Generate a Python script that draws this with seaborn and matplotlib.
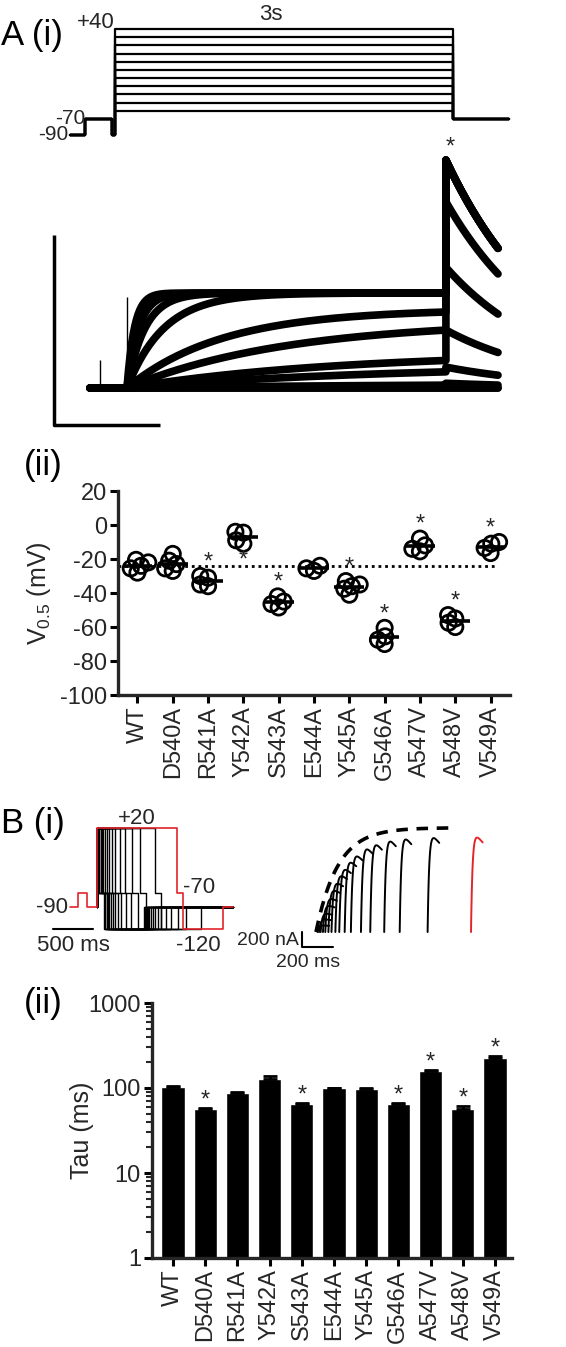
import numpy as np
import pandas as pd
import matplotlib
matplotlib.use("Agg")
import matplotlib.pyplot as plt
import seaborn as sns

# ── Mutants ───────────────────────────────────────────────────────────────────
MUTANTS = ["WT", "D540A", "R541A", "Y542A", "S543A", "E544A",
           "Y545A", "G546A", "A547V", "A548V", "V549A"]

# A(ii) V0.5 (mV), individual cells
V05_WT    = [-20.5, -22.0, -24.0, -25.5, -28.0]
V05_D540A = [-17.0, -21.0, -23.0, -25.5, -27.0]
V05_R541A = [-30.0, -31.0, -35.0, -36.0]
V05_Y542A = [-4.0, -4.5, -9.0, -11.0]
V05_S543A = [-42.0, -45.0, -46.5, -48.5]
V05_E544A = [-24.0, -25.5, -27.0]
V05_Y545A = [-33.0, -35.0, -36.0, -37.5, -41.0]
V05_G546A = [-60.5, -65.5, -67.5, -70.0]
V05_A547V = [-8.0, -12.0, -14.0, -15.5]
V05_A548V = [-53.0, -55.0, -57.5, -60.0]
V05_V549A = [-10.0, -11.0, -13.5, -16.5]
V05_STAR  = ["", "", "up", "down", "up", "", "up", "up", "up", "up", "up"]

# B(ii) deactivation tau (ms), mean and SEM
TAU_MEAN = [103, 56, 88, 128, 65, 99, 98, 64, 158, 56, 228]
TAU_SEM  = [3, 2, 2, 10, 2, 1, 2, 2, 5, 5, 8]
TAU_STAR = [False, True, False, False, True, False, False, True, True, True, True]

# A(i) voltage protocol
A_STEP_MV = [-60, -50, -40, -30, -20, -10, 0, 10, 20, 30, 40]
A_PRE_T   = [-400, -266, -25, 0]      # ms
A_PRE_MV  = [-90, -70, -90]
A_TEST_MS = 3000
A_END_MS  = 3500
A_TAIL_MV = -70

# A(i) current traces (uA), one entry per step
A_ACT_END  = [0, 0, 0.03, 0.17, 0.29, 0.61, 0.80, 1.0, 1.0, 1.0, 1.0]
A_ACT_TAU  = [500, 500, 2500, 2500, 2000, 1500, 900, 350, 170, 110, 70]
A_TAIL_PK  = [0, 0, 0.05, 0.22, 0.61, 1.27, 1.96, 2.40, 2.40, 2.40, 2.40]
A_TAIL_TAU = 1000

# B(i) envelope-of-tails protocol
B_DUR_MS  = [10, 20, 30, 45, 60, 80, 100, 125, 150, 185, 225, 290, 350, 440, 540, 720]
B_RED_MS  = 1000
B_ENV_TAU = 140
B_ENV_MAX = 1390   # nA

RED  = "#e3242b"
TEXT = "black"
W, H = 566, 1347

sns.set_style("ticks")
plt.rcParams["font.family"] = ["Liberation Sans", "DejaVu Sans"]
plt.rcParams["axes.unicode_minus"] = False
plt.rcParams["mathtext.fontset"] = "custom"
plt.rcParams["mathtext.rm"] = "Liberation Sans"
plt.rcParams["mathtext.default"] = "regular"

fig = plt.figure(figsize=(W / 100, H / 100), dpi=100, facecolor="white")


def box(left, top, width, height):
    """Axes placed in pixel units (origin top-left)."""
    return fig.add_axes([left / W, 1 - (top + height) / H, width / W, height / H])


def panel_label(x, y, s):
    fig.text(x / W, 1 - y / H, s, fontsize=25, ha="left", va="center", color=TEXT)


def style_ax(ax):
    ax.spines[["top", "right"]].set_visible(False)
    ax.spines[["left", "bottom"]].set_linewidth(2.4)
    ax.tick_params(width=2.2, length=6, labelsize=17, color=TEXT, pad=2)


panel_label(1, 36, "A (i)")
panel_label(24, 466, "(ii)")
panel_label(1, 824, "B (i)")
panel_label(24, 1003, "(ii)")

# ── A(i) protocol ─────────────────────────────────────────────────────────────
ax = box(58.65, 16.73, 462, 126.8)
ax.set_xlim(-500, 3600)
ax.set_ylim(-100, 55)
ax.axis("off")
for v in A_STEP_MV:
    t = A_PRE_T + [A_TEST_MS, A_END_MS]
    mv = A_PRE_MV + [v, A_TAIL_MV, A_TAIL_MV]
    ax.plot(t, mv, drawstyle="steps-post", color=TEXT, lw=1.6)
ax.text(0, 41.5, "+40", ha="right", va="baseline", fontsize=16, clip_on=False)
ax.text(A_TEST_MS * 0.46, 51, "3s", ha="center", va="baseline", fontsize=16, clip_on=False)
ax.text(A_PRE_T[1], -76, "-70", ha="right", va="baseline", fontsize=15)
ax.text(A_PRE_T[0] - 17, -96, "-90", ha="right", va="baseline", fontsize=15, clip_on=False)

# ── A(i) current traces ───────────────────────────────────────────────────────
ax = box(31.3, 141, 478.4, 289.75)
ax.set_xlim(-900, 3600)
ax.set_ylim(-0.45, 2.6)
ax.axis("off")
t_pre = np.linspace(-348, 0, 40)
t_step = np.linspace(0, A_TEST_MS, 400)
t_tail = np.linspace(A_TEST_MS, 3490, 80)
for amp, tau, pk in zip(A_ACT_END, A_ACT_TAU, A_TAIL_PK):
    i_step = amp * (1 - np.exp(-t_step / tau)) / (1 - np.exp(-A_TEST_MS / tau))
    i_tail = pk * np.exp(-(t_tail - A_TEST_MS) / A_TAIL_TAU)
    t_all = np.concatenate([t_pre, t_step, t_tail])
    i_all = np.concatenate([np.zeros_like(t_pre), i_step, i_tail])
    ax.plot(t_all, i_all, color=TEXT, lw=5.5, solid_joinstyle="round")
ax.vlines([-254, 0], 0, [0.3, 0.96], color=TEXT, lw=1)
ax.text(3040, 2.53, "*", ha="center", va="center", fontsize=17)
# scale bars: 1 s, 2 uA
ax.plot([-687, -687, 313], [1.61, -0.39, -0.39], color=TEXT, lw=2.5,
        solid_capstyle="butt")

# ── A(ii) V0.5 scatter ────────────────────────────────────────────────────────
v05_lists = [V05_WT, V05_D540A, V05_R541A, V05_Y542A, V05_S543A, V05_E544A,
             V05_Y545A, V05_G546A, V05_A547V, V05_A548V, V05_V549A]
df = pd.DataFrame({
    "mutant": [m for m, vals in zip(MUTANTS, v05_lists) for _ in vals],
    "v05": [v for vals in v05_lists for v in vals],
})
means = df.groupby("mutant")["v05"].mean().reindex(MUTANTS)

ax = box(118, 491, 392, 204)
ax.set_xlim(-0.55, 10.55)
ax.set_ylim(-100, 20)
# lay the swarm out with small markers, then redraw as bigger open circles
# so that neighbouring circles overlap the way Prism draws them
sns.swarmplot(data=df, x="mutant", y="v05", order=MUTANTS, size=5.5,
              color="black", ax=ax)
ax.set_xlim(-0.55, 10.55)
ax.set_ylim(-100, 20)
fig.canvas.draw()
for coll in list(ax.collections):
    offs = np.asarray(coll.get_offsets())
    coll.remove()
    ax.scatter(offs[:, 0], offs[:, 1], s=11 ** 2, facecolors="none",
               edgecolors="black", linewidths=2, zorder=3)
x = np.arange(len(MUTANTS))
ax.hlines(means.values, x - 0.42, x + 0.42, color=TEXT, lw=2.6, zorder=5)
ax.hlines(means["WT"], -0.55, len(MUTANTS) - 0.83, color=TEXT, lw=2,
          linestyles=(0, (1, 1.4)), zorder=2)
for i, (m, s) in enumerate(zip(MUTANTS, V05_STAR)):
    vals = df.loc[df.mutant == m, "v05"]
    if s == "up":
        ax.text(i, vals.max() + 8, "*", ha="center", va="center", fontsize=17)
    elif s == "down":
        ax.text(i, vals.min() - 10, "*", ha="center", va="center", fontsize=17)
ax.set_xlim(-0.55, 10.55)
ax.set_ylim(-100, 20)
ax.set_yticks([20, 0, -20, -40, -60, -80, -100])
ax.set_xlabel("")
ax.set_ylabel("V$_{0.5}$ (mV)", fontsize=18)
ax.yaxis.set_label_coords(-0.165, 0.5)
style_ax(ax)
ax.tick_params(axis="x", labelrotation=90)

# ── B(i) protocol ─────────────────────────────────────────────────────────────
ax = box(49, 817.2, 196, 126.4)
ax.set_xlim(-600, 1850)
ax.set_ylim(-140, 35)
ax.axis("off")
for d in B_DUR_MS:
    t = [0, 0, d, d + 75, d + 575, 1700]
    mv = [-90, 20, -70, -120, -90, -90]
    ax.plot(t, mv, drawstyle="steps-post", color=TEXT, lw=1.0)
t = [-340, -238, -125, 0, B_RED_MS, B_RED_MS + 75, B_RED_MS + 575, 1700]
mv = [-90, -70, -90, 20, -70, -120, -90, -90]
ax.plot(t, mv, drawstyle="steps-post", color=RED, lw=1.2, zorder=5)
ax.text(500, 33.8, "+20", ha="center", va="center", fontsize=16, clip_on=False)
ax.text(1075, -61.7, "-70", ha="left", va="center", fontsize=16)
ax.text(-362, -90, "-90", ha="right", va="center", fontsize=16)
ax.text(1263, -142, "-120", ha="center", va="center", fontsize=16, clip_on=False)
ax.plot([-550, -50], [-120, -120], color=TEXT, lw=1.5)
ax.text(-300, -142, "500 ms", ha="center", va="center", fontsize=16, clip_on=False)

# ── B(i) tail currents ────────────────────────────────────────────────────────
ax = box(245, 815, 255, 160)
ax.set_xlim(-458, 1187)
ax.set_ylim(-573, 1560)
ax.axis("off")
for d in B_DUR_MS + [B_RED_MS]:
    peak = B_ENV_MAX * (1 - np.exp(-d / B_ENV_TAU))
    tt = np.linspace(0, 75, 90)
    cur = peak * (1 - np.exp(-tt / 10)) * np.exp(-tt / 500)
    ax.plot(d + tt, cur, color=RED if d == B_RED_MS else TEXT, lw=1.4)
t_env = np.linspace(0, 880, 200)
ax.plot(t_env, B_ENV_MAX * (1 - np.exp(-t_env / B_ENV_TAU)), color=TEXT,
        lw=2.6, dashes=(3.2, 2.4))
ax.plot([-90, -90, 110], [0, -200, -200], color=TEXT, lw=1.5)
narrow = ["Liberation Sans Narrow", "Liberation Sans"]
ax.text(-110, -107, "200 nA", ha="right", va="center", fontsize=14, family=narrow)
ax.text(-52, -400, "200 ms", ha="center", va="center", fontsize=14, family=narrow)

# ── B(ii) tau bars ────────────────────────────────────────────────────────────
ax = box(152, 1003, 360, 255)
sns.barplot(x=MUTANTS, y=TAU_MEAN, color="black", width=0.72, saturation=1,
            ax=ax)
ax.errorbar(x, TAU_MEAN, yerr=[np.zeros(len(x)), TAU_SEM], fmt="none",
            ecolor="black", elinewidth=2, capsize=5, capthick=2)
ax.set_yscale("log")
ax.set_ylim(1, 1000)
ax.set_xlim(-0.65, 10.53)
ax.set_yticks([1, 10, 100, 1000])
ax.set_yticklabels(["1", "10", "100", "1000"])
for i, (m, e, s) in enumerate(zip(TAU_MEAN, TAU_SEM, TAU_STAR)):
    if s:
        ax.text(i, (m + e) * 1.22, "*", ha="center", va="center", fontsize=17)
ax.set_ylabel("Tau (ms)", fontsize=18)
ax.yaxis.set_label_coords(-0.161, 0.5)
style_ax(ax)
ax.tick_params(axis="y", which="minor", width=1.5, length=4)
ax.tick_params(axis="x", labelrotation=90)

fig.savefig("out.png", dpi=100, facecolor="white")
